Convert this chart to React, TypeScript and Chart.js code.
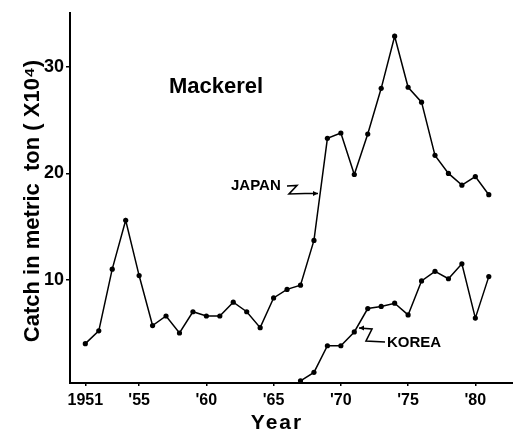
import React, { useEffect, useRef } from "react";
import { Chart, registerables } from "chart.js";

Chart.register(...registerables);

const japanYears = [1951,1952,1953,1954,1955,1956,1957,1958,1959,1960,1961,1962,1963,1964,1965,1966,1967,1968,1969,1970,1971,1972,1973,1974,1975,1976,1977,1978,1979,1980,1981];
const japanCatch = [4.0,5.2,11.0,15.6,10.4,5.7,6.6,5.0,7.0,6.6,6.6,7.9,7.0,5.5,8.3,9.1,9.5,13.7,23.3,23.8,19.9,23.7,28.0,32.9,28.1,26.7,21.7,20.0,18.9,19.7,18.0];
const koreaYears = [1967,1968,1969,1970,1971,1972,1973,1974,1975,1976,1977,1978,1979,1980,1981];
const koreaCatch = [0.5,1.3,3.8,3.8,5.1,7.3,7.5,7.8,6.7,9.9,10.8,10.1,11.5,6.4,10.3];
const xTickValues = [1951,1955,1960,1965,1970,1975,1980];
const xTickLabels = ["1951","'55","'60","'65","'70","'75","'80"];
const yTickValues = [10,20,30];

const FONT = "'Liberation Sans', Arial, sans-serif";

const annotations = {
  id: "annotations",
  afterDraw(chart: any) {
    const ctx = chart.ctx;
    ctx.save();
    ctx.fillStyle = "#000";
    ctx.strokeStyle = "#000";
    ctx.lineWidth = 1.6;
    ctx.lineJoin = "miter";

    ctx.font = `bold 22px ${FONT}`;
    ctx.textAlign = "center";
    ctx.textBaseline = "middle";
    ctx.fillText("Mackerel", 216, 87);

    ctx.font = `bold 15px ${FONT}`;
    ctx.textAlign = "left";
    ctx.fillText("JAPAN", 231, 186);
    ctx.beginPath();
    ctx.moveTo(287, 186);
    ctx.lineTo(297, 185.5);
    ctx.lineTo(289, 194);
    ctx.lineTo(305, 193.5);
    ctx.lineTo(318, 193.5);
    ctx.stroke();
    ctx.beginPath();
    ctx.moveTo(318, 193.5);
    ctx.lineTo(313, 191);
    ctx.lineTo(313, 196);
    ctx.closePath();
    ctx.fill();

    ctx.fillText("KOREA", 387, 343);
    ctx.beginPath();
    ctx.moveTo(359, 328);
    ctx.lineTo(372, 329);
    ctx.lineTo(366, 341);
    ctx.lineTo(385, 342);
    ctx.stroke();
    ctx.beginPath();
    ctx.moveTo(359, 328);
    ctx.lineTo(364, 325.5);
    ctx.lineTo(364, 330.5);
    ctx.closePath();
    ctx.fill();

    ctx.font = `bold 22px ${FONT}`;
    ctx.textAlign = "center";
    ctx.textBaseline = "middle";
    ctx.save();
    ctx.translate(33, 201);
    ctx.rotate(-Math.PI / 2);
    ctx.fillText("Catch in metric  ton ( X10\u2074)", 0, 0);
    ctx.restore();

    ctx.font = `bold 21px ${FONT}`;
    (ctx as any).letterSpacing = "2px";
    ctx.fillText("Year", 277, 423);
    (ctx as any).letterSpacing = "0px";
    ctx.restore();
  },
};

export default function App() {
  const canvasRef = useRef<HTMLCanvasElement | null>(null);

  useEffect(() => {
    const canvas = canvasRef.current;
    if (!canvas) return;
    const chart = new Chart(canvas, {
      type: "line",
      data: {
        datasets: [
          {
            label: "JAPAN",
            data: japanYears.map((x, i) => ({ x, y: japanCatch[i] })),
            borderColor: "#000",
            backgroundColor: "#000",
            borderWidth: 1.5,
            pointRadius: 2.6,
            pointBackgroundColor: "#000",
            pointBorderWidth: 0,
            tension: 0,
          },
          {
            label: "KOREA",
            data: koreaYears.map((x, i) => ({ x, y: koreaCatch[i] })),
            borderColor: "#000",
            backgroundColor: "#000",
            borderWidth: 1.5,
            pointRadius: 2.6,
            pointBackgroundColor: "#000",
            pointBorderWidth: 0,
            tension: 0,
          },
        ],
      },
      options: {
        animation: false,
        responsive: true,
        maintainAspectRatio: false,
        layout: { autoPadding: false, padding: { top: 7, left: 0, right: 0, bottom: 0 } },
        plugins: {
          legend: { display: false },
          tooltip: { enabled: false },
        },
        scales: {
          x: {
            type: "linear",
            min: 1949.86,
            max: 1982.8,
            afterFit: (s: any) => { s.height = 50; },
            afterBuildTicks: (s: any) => { s.ticks = xTickValues.map((v) => ({ value: v })); },
            grid: { display: true, drawOnChartArea: false, drawTicks: true, tickLength: 3, color: "#000", lineWidth: 1.5 },
            border: { display: true, color: "#000", width: 2 },
            ticks: {
              autoSkip: false,
              maxRotation: 0,
              padding: 5,
              color: "#000",
              font: { family: FONT, size: 16, weight: "bold" },
              callback: (v: any) => {
                const i = xTickValues.indexOf(Number(v));
                return i >= 0 ? xTickLabels[i] : "";
              },
            },
          },
          y: {
            type: "linear",
            min: 0.3,
            max: 35.1,
            afterFit: (s: any) => { s.width = 70; },
            afterBuildTicks: (s: any) => { s.ticks = yTickValues.map((v) => ({ value: v })); },
            grid: { display: true, drawOnChartArea: false, drawTicks: true, tickLength: 4, color: "#000", lineWidth: 1.5 },
            border: { display: true, color: "#000", width: 2 },
            ticks: {
              padding: 2,
              color: "#000",
              font: { family: FONT, size: 18, weight: "bold" },
              callback: (v: any) => String(v),
            },
          },
        },
      },
      plugins: [annotations],
    });
    return () => chart.destroy();
  }, []);

  return (
    <div style={{ position: "fixed", left: 0, top: 0, width: 513, height: 433, background: "#fff" }}>
      <canvas ref={canvasRef} />
    </div>
  );
}
